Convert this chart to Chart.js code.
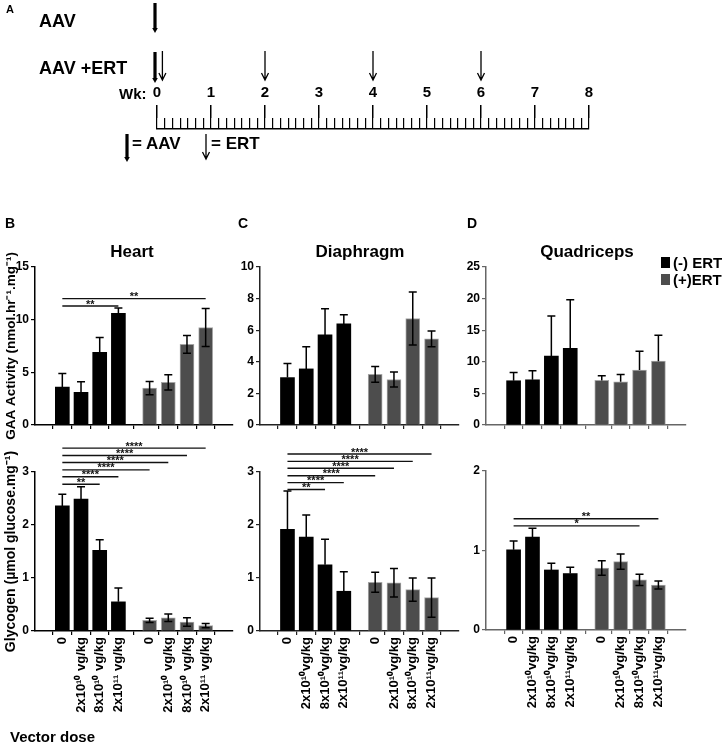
<!DOCTYPE html>
<html>
<head>
<meta charset="utf-8">
<script src="https://cdn.jsdelivr.net/npm/chart.js@4.4.0/dist/chart.umd.min.js"></script>
<style>
body { margin: 0; background: #fff; width: 724px; height: 743px; position: relative; overflow: hidden;
       font-family: "Liberation Sans", Arial, sans-serif; font-weight: bold; color: #000; }
canvas, .t { position: absolute; }
.t { white-space: nowrap; line-height: 1; }
.narrow { font-family: "Liberation Sans Narrow", "Liberation Sans", sans-serif; }
.sq { position: absolute; width: 9px; height: 11px; }
</style>
</head>
<body>
<canvas id="timeline" width="724" height="170" style="left:0;top:0"></canvas>
<canvas id="heartGly" width="240" height="300" style="left:0;top:430px"></canvas>
<canvas id="heartGaa" width="240" height="210" style="left:0;top:240px"></canvas>
<canvas id="diaGaa" width="240" height="200" style="left:225px;top:240px"></canvas>
<canvas id="diaGly" width="240" height="300" style="left:225px;top:430px"></canvas>
<canvas id="quadGaa" width="273" height="200" style="left:451px;top:240px"></canvas>
<canvas id="quadGly" width="273" height="300" style="left:451px;top:430px"></canvas>

<div class="t" style="left:6px;top:4px;font-size:11px">A</div>
<div class="t" style="left:39px;top:12px;font-size:18px">AAV</div>
<div class="t" style="left:39px;top:59px;font-size:18px">AAV +ERT</div>
<div class="t narrow" style="left:119px;top:86px;font-size:15px">Wk:</div>
<div class="t" style="left:132px;top:135px;font-size:17px">= AAV</div>
<div class="t" style="left:211px;top:135px;font-size:17px">= ERT</div>

<div class="t" style="left:5px;top:216px;font-size:14px">B</div>
<div class="t" style="left:238px;top:216px;font-size:14px">C</div>
<div class="t" style="left:467px;top:216px;font-size:14px">D</div>
<div class="t" style="left:82px;top:243px;width:100px;text-align:center;font-size:17px">Heart</div>
<div class="t" style="left:300px;top:243px;width:120px;text-align:center;font-size:17px">Diaphragm</div>
<div class="t" style="left:527px;top:243px;width:120px;text-align:center;font-size:17px">Quadriceps</div>

<div class="sq" style="left:661px;top:257px;background:#000"></div>
<div class="t" style="left:673px;top:255px;font-size:15px">(-) ERT</div>
<div class="sq" style="left:661px;top:274px;background:#4d4d4d"></div>
<div class="t" style="left:673px;top:272px;font-size:15px">(+)ERT</div>

<div class="t narrow" style="left:10px;top:729px;font-size:15px">Vector dose</div>

<script>
// timeline (panel A)
const daysPerWeek = 7;
const weekCount = 8;
const aavWeeks = [0];
const ertWeeks = [0.1, 2, 4, 6];

// bar slots on the x scale: 4 doses without ERT, gap, 4 doses with ERT
const slotPos = [0, 1, 2, 3, 4.67, 5.67, 6.67, 7.67];
const doseLabelsHeart = ['0', '2x10¹⁰ vg/kg', '8x10¹⁰ vg/kg', '2x10¹¹ vg/kg'];
const doseLabels = ['0', '2x10¹⁰vg/kg', '8x10¹⁰vg/kg', '2x10¹¹vg/kg'];

// Heart
const heartGaaMinus = [3.6, 3.1, 6.9, 10.6];
const heartGaaMinusErr = [1.3, 1.0, 1.4, 0.5];
const heartGaaPlus = [3.5, 4.05, 7.65, 9.25];
const heartGaaPlusErr = [0.63, 0.72, 0.85, 1.8];
const heartGlyMinus = [2.36, 2.49, 1.52, 0.55];
const heartGlyMinusErr = [0.22, 0.23, 0.2, 0.26];
const heartGlyPlus = [0.2, 0.25, 0.17, 0.1];
const heartGlyPlusErr = [0.04, 0.07, 0.08, 0.04];

// Diaphragm
const diaGaaMinus = [3.0, 3.55, 5.7, 6.4];
const diaGaaMinusErr = [0.9, 1.4, 1.65, 0.57];
const diaGaaPlus = [3.2, 2.88, 6.74, 5.45];
const diaGaaPlusErr = [0.5, 0.48, 1.67, 0.5];
const diaGlyMinus = [1.92, 1.77, 1.25, 0.75];
const diaGlyMinusErr = [0.72, 0.42, 0.48, 0.37];
const diaGlyPlus = [0.92, 0.91, 0.78, 0.63];
const diaGlyPlusErr = [0.19, 0.27, 0.22, 0.37];

// Quadriceps
const quadGaaMinus = [7.0, 7.15, 10.9, 12.15];
const quadGaaMinusErr = [1.3, 1.43, 6.35, 7.65];
const quadGaaPlus = [7.05, 6.85, 8.7, 10.1];
const quadGaaPlusErr = [0.75, 1.15, 2.95, 4.1];
const quadGlyMinus = [1.01, 1.17, 0.755, 0.71];
const quadGlyMinusErr = [0.11, 0.11, 0.085, 0.08];
const quadGlyPlus = [0.78, 0.86, 0.63, 0.565];
const quadGlyPlusErr = [0.09, 0.095, 0.07, 0.05];

// significance bars: [from bar, to bar, height, stars]
const heartGaaSig = [[0, 3, 11.3, '**'], [0, 7, 12.0, '**']];
const heartGlySig = [[0, 2, 2.77, '**'], [0, 3, 2.91, '****'], [0, 4, 3.04, '****'],
                     [0, 5, 3.18, '****'], [0, 6, 3.31, '****'], [0, 7, 3.45, '****']];
const diaGlySig = [[0, 2, 2.67, '**'], [0, 3, 2.8, '****'], [0, 4, 2.93, '****'],
                   [0, 5, 3.07, '****'], [0, 6, 3.2, '****'], [0, 7, 3.34, '****']];
const quadGlySig = [[0, 6, 1.31, '*'], [0, 7, 1.40, '**']];

Chart.defaults.font.family = '"Liberation Sans", Arial, sans-serif';
Chart.defaults.font.weight = 'bold';
Chart.defaults.color = '#000';

function drawArrow(ctx, x, y0, y1, thick) {
    ctx.save();
    ctx.strokeStyle = '#000';
    ctx.fillStyle = '#000';
    if (thick) {
        ctx.lineWidth = 3.2;
        ctx.beginPath();
        ctx.moveTo(x, y0);
        ctx.lineTo(x, y1 - 4);
        ctx.stroke();
        ctx.beginPath();
        ctx.moveTo(x - 2.8, y1 - 5);
        ctx.lineTo(x + 2.8, y1 - 5);
        ctx.lineTo(x, y1);
        ctx.closePath();
        ctx.fill();
    } else {
        ctx.lineWidth = 1.3;
        ctx.beginPath();
        ctx.moveTo(x, y0);
        ctx.lineTo(x, y1);
        ctx.moveTo(x - 3.5, y1 - 7);
        ctx.lineTo(x, y1);
        ctx.lineTo(x + 3.5, y1 - 7);
        ctx.stroke();
    }
    ctx.restore();
}

const arrowMarks = {
    id: 'arrowMarks',
    afterDraw(chart) {
        const ctx = chart.ctx;
        const x = chart.scales.x;
        aavWeeks.forEach(w => {
            drawArrow(ctx, x.getPixelForValue(w) - 2, 3, 33, true);
            drawArrow(ctx, x.getPixelForValue(w) - 2, 52, 83, true);
        });
        ertWeeks.forEach(w => drawArrow(ctx, x.getPixelForValue(w), 51, 80, false));
        // key
        drawArrow(ctx, 127, 134, 162, true);
        drawArrow(ctx, 206, 134, 159, false);
    }
};

new Chart(document.getElementById('timeline'), {
    type: 'line',
    data: { datasets: [] },
    options: {
        responsive: false,
        animation: false,
        layout: { padding: { left: 157, right: 135, top: 0, bottom: 41 } },
        plugins: { legend: { display: false }, tooltip: { enabled: false } },
        scales: {
            x: {
                type: 'linear', position: 'top', min: 0, max: weekCount,
                afterFit: s => { s.height = 118; },
                ticks: { stepSize: 1, padding: 3, autoSkip: false,
                         font: { family: '"Liberation Sans Narrow", "Liberation Sans", sans-serif', size: 15, weight: 'bold' } },
                grid: { drawOnChartArea: false, tickLength: 13, color: '#000', lineWidth: 1.5 },
                border: { display: false }
            },
            x2: {
                type: 'linear', axis: 'x', position: 'bottom', min: 0, max: weekCount,
                afterBuildTicks: s => {
                    const t = [];
                    for (let d = 0; d <= weekCount * daysPerWeek; d++) t.push({ value: d / daysPerWeek });
                    s.ticks = t;
                },
                afterFit: s => { s.height = 0; },
                ticks: { display: false },
                grid: { drawOnChartArea: true, drawTicks: false, color: '#000', lineWidth: 1.2 },
                border: { display: true, color: '#000', width: 1.5 }
            },
            y: { display: false, min: 0, max: 1 }
        }
    },
    plugins: [arrowMarks]
});

const errorBars = {
    id: 'errorBars',
    afterDatasetsDraw(chart, args, opts) {
        const ctx = chart.ctx;
        const y = chart.scales.y;
        ctx.save();
        ctx.strokeStyle = '#000';
        ctx.lineWidth = 1.5;
        chart.data.datasets.forEach((ds, d) => {
            const meta = chart.getDatasetMeta(d);
            meta.data.forEach((bar, i) => {
                const v = ds.data[i].y;
                const e = opts.errors[d][i];
                const top = y.getPixelForValue(v + e);
                const bot = opts.lower[d] ? y.getPixelForValue(v - e) : bar.y;
                ctx.beginPath();
                ctx.moveTo(bar.x, top);
                ctx.lineTo(bar.x, bot);
                ctx.moveTo(bar.x - 4, top);
                ctx.lineTo(bar.x + 4, top);
                if (opts.lower[d]) {
                    ctx.moveTo(bar.x - 4, bot);
                    ctx.lineTo(bar.x + 4, bot);
                }
                ctx.stroke();
            });
        });
        ctx.restore();
    }
};

const sigBars = {
    id: 'sigBars',
    afterDatasetsDraw(chart, args, opts) {
        const ctx = chart.ctx;
        const x = chart.scales.x;
        const y = chart.scales.y;
        ctx.save();
        ctx.strokeStyle = '#111';
        ctx.fillStyle = '#111';
        ctx.lineWidth = 1.4;
        ctx.font = 'bold 11px "Liberation Sans", Arial, sans-serif';
        ctx.textAlign = 'center';
        ctx.textBaseline = 'bottom';
        (opts.list || []).forEach(([a, b, h, stars]) => {
            const x1 = x.getPixelForValue(slotPos[a]);
            const x2 = x.getPixelForValue(slotPos[b]);
            const py = y.getPixelForValue(h);
            ctx.beginPath();
            ctx.moveTo(x1, py);
            ctx.lineTo(x2, py);
            ctx.stroke();
            ctx.fillText(stars, (x1 + x2) / 2, py + 4);
        });
        ctx.restore();
    }
};

function makeBarChart(canvasId, c) {
    const toPoints = (vals, offset) => vals.map((v, i) => ({ x: slotPos[i + offset], y: v }));
    new Chart(document.getElementById(canvasId), {
        type: 'bar',
        data: {
            datasets: [
                { label: '(-) ERT', data: toPoints(c.minus, 0), backgroundColor: '#000', borderWidth: 0,
                  barThickness: 14, grouped: false },
                { label: '(+)ERT', data: toPoints(c.plus, 4), backgroundColor: '#4d4d4d', borderColor: '#a5a5a5',
                  borderWidth: 1, barThickness: 14, grouped: false }
            ]
        },
        options: {
            responsive: false,
            animation: false,
            layout: { padding: c.padding },
            plugins: {
                legend: { display: false },
                tooltip: { enabled: false },
                errorBars: { errors: [c.minusErr, c.plusErr], lower: [false, c.plusLower] },
                sigBars: { list: c.sig }
            },
            scales: {
                x: {
                    type: 'linear', min: -0.8, max: 8.47,
                    afterBuildTicks: s => { s.ticks = slotPos.map(v => ({ value: v })); },
                    afterFit: s => { s.height = c.xHeight; },
                    ticks: {
                        display: !!c.labels, autoSkip: false, minRotation: 90, maxRotation: 90, padding: 2,
                        font: { size: 13, weight: 'bold' },
                        callback: (v, i) => (c.labels ? c.labels[i % 4] : '')
                    },
                    grid: { drawOnChartArea: false, tickLength: 4, color: c.axisColor, lineWidth: 1.2 },
                    border: { color: c.axisColor, width: 1.5 }
                },
                y: {
                    min: 0, max: c.yMax,
                    afterFit: s => { s.width = 35; },
                    ticks: { stepSize: c.yStep, padding: 2, font: { size: 12, weight: 'bold' } },
                    grid: { drawOnChartArea: false, tickLength: 4, color: c.axisColor, lineWidth: 1.2 },
                    border: { color: c.axisColor, width: 1.5 },
                    title: { display: !!c.yTitle, text: c.yTitle || '', font: { size: c.titleSize || 14, weight: 'bold' },
                             padding: { top: 3, bottom: 0 } }
                }
            }
        },
        plugins: [errorBars, sigBars]
    });
}

makeBarChart('heartGaa', {
    minus: heartGaaMinus, minusErr: heartGaaMinusErr, plus: heartGaaPlus, plusErr: heartGaaPlusErr, plusLower: true,
    yMax: 15, yStep: 5, yTitle: 'GAA Activity (nmol.hr⁻¹.mg⁻¹)', titleSize: 13.5, labels: null, sig: heartGaaSig,
    padding: { top: 27, right: 7, bottom: 0, left: 0 }, xHeight: 25, axisColor: '#000'
});
makeBarChart('heartGly', {
    minus: heartGlyMinus, minusErr: heartGlyMinusErr, plus: heartGlyPlus, plusErr: heartGlyPlusErr, plusLower: true,
    yMax: 3, yStep: 1, yTitle: 'Glycogen (µmol glucose.mg⁻¹)', labels: doseLabelsHeart, sig: heartGlySig,
    padding: { top: 42, right: 7, bottom: 0, left: 0 }, xHeight: 99, axisColor: '#000'
});
makeBarChart('diaGaa', {
    minus: diaGaaMinus, minusErr: diaGaaMinusErr, plus: diaGaaPlus, plusErr: diaGaaPlusErr, plusLower: true,
    yMax: 10, yStep: 2, yTitle: null, labels: null, sig: [],
    padding: { top: 27, right: 6, bottom: 0, left: 0 }, xHeight: 15, axisColor: '#222'
});
makeBarChart('diaGly', {
    minus: diaGlyMinus, minusErr: diaGlyMinusErr, plus: diaGlyPlus, plusErr: diaGlyPlusErr, plusLower: true,
    yMax: 3, yStep: 1, yTitle: null, labels: doseLabels, sig: diaGlySig,
    padding: { top: 42, right: 6, bottom: 0, left: 0 }, xHeight: 99, axisColor: '#222'
});
makeBarChart('quadGaa', {
    minus: quadGaaMinus, minusErr: quadGaaMinusErr, plus: quadGaaPlus, plusErr: quadGaaPlusErr, plusLower: false,
    yMax: 25, yStep: 5, yTitle: null, labels: null, sig: [],
    padding: { top: 27, right: 38, bottom: 0, left: 0 }, xHeight: 15, axisColor: '#666'
});
makeBarChart('quadGly', {
    minus: quadGlyMinus, minusErr: quadGlyMinusErr, plus: quadGlyPlus, plusErr: quadGlyPlusErr, plusLower: true,
    yMax: 2, yStep: 1, yTitle: null, labels: doseLabels, sig: quadGlySig,
    padding: { top: 41, right: 38, bottom: 0, left: 0 }, xHeight: 100, axisColor: '#666'
});
</script>
</body>
</html>
